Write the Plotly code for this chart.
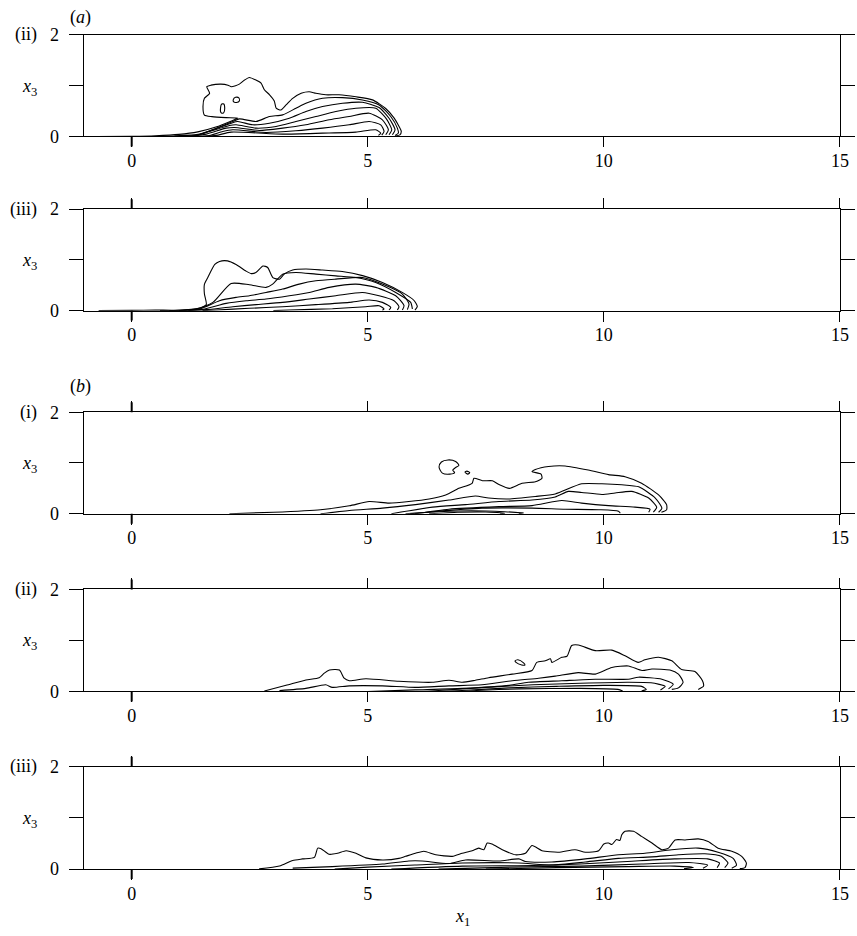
import plotly.graph_objects as go

# ---------------------------------------------------------------------------
# Axis values and labels
# ---------------------------------------------------------------------------
X_RANGE = [-1, 15]
Y_RANGE = [0, 2]
X_TICKS = [0, 5, 10, 15]
Y_TICKS = [0, 1, 2]
Y_TICKTEXT = ["0", "", "2"]
PANEL_TAGS = ["(ii)", "(iii)", "(i)", "(ii)", "(iii)"]
GROUP_TAGS = ["(<i>a</i>)", "(<i>b</i>)"]
X_TITLE = "<i>x</i><sub>1</sub>"
Y_TITLE = "<i>x</i><sub>3</sub>"

# ---------------------------------------------------------------------------
# Contour lines (x1, x3), one list per level, outermost level first
# ---------------------------------------------------------------------------
# (a)(ii)
A2_X = [
    [-0.75, 0.0, 0.5, 1.0, 1.4, 1.8, 2.1, 2.25, 2.0, 1.7, 1.54, 1.51, 1.54, 1.65, 1.59, 1.68, 1.89, 2.04,
     2.11, 2.20, 2.28, 2.39, 2.49, 2.63, 2.74, 2.81, 2.92, 3.02, 3.06, 3.16, 3.27, 3.41, 3.59, 3.76, 3.90,
     4.11, 4.39, 4.75, 5.10, 5.38, 5.56, 5.66, 5.71, 5.68, 5.59],
    [0.3, 0.9, 1.437, 1.789, 2.141, 2.282, 2.634, 2.916, 3.197, 3.479, 3.690, 4.042, 4.465, 4.887, 5.240,
     5.487, 5.627, 5.648, 5.578],
    [0.6, 1.366, 1.719, 2.106, 2.247, 2.564, 2.916, 3.338, 3.690, 4.042, 4.465, 4.887, 5.240, 5.451, 5.578,
     5.522],
    [0.9, 1.296, 1.648, 2.071, 2.211, 2.634, 3.057, 3.479, 3.901, 4.324, 4.747, 5.169, 5.395, 5.508, 5.451],
    [1.2, 1.578, 2.0, 2.176, 2.704, 3.197, 3.690, 4.183, 4.606, 5.029, 5.310, 5.437, 5.381],
    [1.4, 1.648, 1.930, 2.141, 2.845, 3.479, 4.042, 4.606, 5.029, 5.275, 5.345, 5.296],
    [1.5, 1.789, 2.106, 3.197, 4.042, 4.747, 5.169, 5.275, 5.226],
]
A2_Y = [
    [0.0, 0.005, 0.015, 0.04, 0.09, 0.19, 0.30, 0.36, 0.37, 0.39, 0.42, 0.59, 0.75, 0.85, 0.98, 1.01, 1.03,
     1.01, 0.98, 1.0, 1.03, 1.11, 1.16, 1.11, 1.05, 0.92, 0.82, 0.70, 0.556, 0.52, 0.62, 0.75, 0.85, 0.88,
     0.85, 0.82, 0.82, 0.78, 0.72, 0.55, 0.36, 0.20, 0.10, 0.03, 0.01],
    [0.0, 0.01, 0.046, 0.163, 0.294, 0.346, 0.294, 0.392, 0.425, 0.556, 0.654, 0.752, 0.765, 0.719, 0.621,
     0.392, 0.163, 0.065, 0.020],
    [0.0, 0.02, 0.131, 0.261, 0.294, 0.229, 0.261, 0.359, 0.490, 0.588, 0.654, 0.673, 0.569, 0.359, 0.131,
     0.033],
    [0.0, 0.007, 0.098, 0.216, 0.229, 0.163, 0.196, 0.294, 0.392, 0.490, 0.556, 0.556, 0.346, 0.131, 0.033],
    [0.0, 0.046, 0.163, 0.176, 0.118, 0.163, 0.229, 0.327, 0.392, 0.458, 0.327, 0.131, 0.033],
    [0.0, 0.02, 0.098, 0.131, 0.078, 0.111, 0.163, 0.229, 0.294, 0.229, 0.098, 0.026],
    [0.0, 0.02, 0.085, 0.046, 0.065, 0.085, 0.131, 0.065, 0.02],
]
A2_ISLAND_X = [
    [1.88, 1.90, 1.95, 1.97, 1.95, 1.90, 1.88],
    [2.15, 2.20, 2.27, 2.28, 2.22, 2.16, 2.15],
]
A2_ISLAND_Y = [
    [0.50, 0.63, 0.64, 0.55, 0.47, 0.46, 0.50],
    [0.72, 0.77, 0.76, 0.70, 0.67, 0.68, 0.72],
]

# (a)(iii)
A3_X = [
    [-0.7, 0.0, 0.5, 1.08, 1.44, 1.58, 1.54, 1.54, 1.61, 1.76, 1.86, 2.03, 2.21, 2.42, 2.53, 2.63, 2.78,
     2.88, 2.99, 3.13, 3.23, 3.41, 3.69, 4.04, 4.46, 4.89, 5.31, 5.73, 5.98, 6.05, 6.0],
    [0.6, 1.366, 1.719, 2.106, 2.493, 2.845, 2.986, 3.197, 3.479, 3.901, 4.324, 4.747, 5.169, 5.592, 5.909,
     5.945],
    [0.8, 1.437, 1.859, 2.211, 2.493, 2.845, 3.197, 3.549, 3.901, 4.324, 4.887, 5.310, 5.733, 5.874, 5.839],
    [1.0, 1.507, 2.0, 2.423, 2.845, 3.338, 3.761, 4.183, 4.747, 5.169, 5.592, 5.768, 5.733],
    [1.2, 1.578, 2.141, 2.634, 3.197, 3.761, 4.324, 4.887, 5.240, 5.557, 5.662, 5.627],
    [1.5, 1.789, 2.493, 3.197, 3.901, 4.606, 5.029, 5.310, 5.487, 5.451],
    [3.0, 3.338, 4.253, 4.958, 5.240, 5.345, 5.310],
]
A3_Y = [
    [0.0, 0.005, 0.01, 0.012, 0.05, 0.12, 0.33, 0.52, 0.65, 0.91, 0.97, 0.98, 0.91, 0.78, 0.73, 0.75, 0.88,
     0.85, 0.65, 0.62, 0.72, 0.80, 0.82, 0.80, 0.77, 0.69, 0.556, 0.36, 0.20, 0.08, 0.01],
    [0.0, 0.033, 0.163, 0.536, 0.510, 0.458, 0.523, 0.719, 0.752, 0.719, 0.686, 0.654, 0.556, 0.359, 0.163,
     0.033],
    [0.0, 0.033, 0.196, 0.261, 0.294, 0.359, 0.425, 0.523, 0.588, 0.621, 0.654, 0.523, 0.327, 0.131, 0.020],
    [0.0, 0.026, 0.144, 0.196, 0.229, 0.294, 0.359, 0.458, 0.523, 0.458, 0.294, 0.098, 0.013],
    [0.0, 0.020, 0.078, 0.118, 0.163, 0.229, 0.294, 0.359, 0.294, 0.196, 0.078, 0.013],
    [0.0, 0.013, 0.046, 0.078, 0.118, 0.163, 0.209, 0.163, 0.065, 0.013],
    [0.0, 0.013, 0.039, 0.078, 0.098, 0.033, 0.007],
]

# (b)(i)
B1_X = [
    [2.07, 3.0, 4.0, 4.61, 5.03, 5.45, 5.87, 6.30, 6.65, 6.93, 7.21, 7.25, 7.43, 7.64, 7.79, 8.0, 8.27, 8.55,
     8.69, 8.67, 8.48, 8.55, 8.83, 9.18, 9.67, 10.1, 10.45, 10.8, 11.16, 11.33, 11.33, 11.22],
    [4.0, 4.61, 5.31, 6.01, 6.72, 7.28, 7.56, 7.98, 8.55, 8.97, 9.53, 9.96, 10.38, 10.74, 11.09, 11.23, 11.16],
    [5.5, 6.37, 7.07, 7.78, 8.48, 8.97, 9.25, 9.53, 9.96, 10.24, 10.59, 10.95, 11.12, 11.05],
    [6.0, 6.72, 7.78, 8.48, 9.11, 9.53, 10.1, 10.66, 10.98, 10.95],
    [5.9, 6.37, 7.42, 8.48, 9.18, 9.89, 10.31, 10.35],
    [5.8, 6.5, 7.2, 7.9, 8.3, 8.2],
    [6.3, 6.9, 7.5, 7.9, 7.8],
]
B1_Y = [
    [0.0, 0.03, 0.08, 0.157, 0.24, 0.21, 0.24, 0.29, 0.37, 0.50, 0.60, 0.70, 0.65, 0.65, 0.57, 0.50, 0.60,
     0.63, 0.70, 0.78, 0.83, 0.87, 0.93, 0.94, 0.86, 0.77, 0.73, 0.60, 0.37, 0.18, 0.08, 0.03],
    [0.0, 0.065, 0.11, 0.18, 0.27, 0.35, 0.31, 0.29, 0.34, 0.39, 0.59, 0.59, 0.57, 0.53, 0.31, 0.11, 0.03],
    [0.0, 0.13, 0.18, 0.24, 0.27, 0.33, 0.44, 0.42, 0.38, 0.41, 0.44, 0.31, 0.13, 0.03],
    [0.0, 0.09, 0.14, 0.16, 0.26, 0.21, 0.16, 0.13, 0.09, 0.03],
    [0.0, 0.04, 0.11, 0.11, 0.09, 0.08, 0.05, 0.01],
    [0.0, 0.04, 0.06, 0.04, 0.015, 0.0],
    [0.0, 0.03, 0.035, 0.01, 0.0],
]
B1_ISLAND_X = [
    [6.51, 6.56, 6.70, 6.86, 6.93, 6.86, 6.80, 6.84, 6.74, 6.58, 6.51],
    [7.06, 7.10, 7.16, 7.12, 7.06],
]
B1_ISLAND_Y = [
    [0.92, 1.02, 1.06, 1.03, 0.95, 0.91, 0.86, 0.81, 0.78, 0.80, 0.92],
    [0.82, 0.84, 0.81, 0.78, 0.82],
]

# (b)(ii)
B2_X = [
    [2.81, 3.27, 3.69, 3.97, 4.08, 4.19, 4.40, 4.50, 4.61, 4.96, 5.66, 6.37, 6.72, 7.0, 7.28, 7.56, 8.06, 8.48,
     8.58, 8.76, 8.87, 8.90, 9.11, 9.22, 9.32, 9.46, 9.82, 10.17, 10.45, 10.73, 10.87, 11.16, 11.44, 11.65,
     11.93, 12.09, 12.11, 12.0],
    [3.13, 3.69, 4.11, 4.25, 4.61, 5.31, 6.01, 6.72, 7.42, 8.06, 8.62, 8.97, 9.46, 9.82, 10.17, 10.52,
     10.81, 11.02, 11.40, 11.58, 11.68, 11.58, 11.44],
    [5.0, 6.0, 7.0, 8.0, 8.40, 9.11, 9.82, 10.52, 10.73, 11.23, 11.47, 11.37],
    [6.0, 6.5, 7.5, 8.5, 9.5, 10.5, 11.0, 11.3, 11.2],
    [6.5, 7.0, 8.0, 9.0, 10.0, 10.8, 10.9, 10.8],
    [7.0, 7.3, 8.2, 9.5, 10.3, 10.4],
]
B2_Y = [
    [0.01, 0.12, 0.225, 0.27, 0.36, 0.42, 0.42, 0.26, 0.21, 0.25, 0.20, 0.18, 0.22, 0.18, 0.22, 0.27, 0.34,
     0.41, 0.57, 0.60, 0.64, 0.57, 0.67, 0.69, 0.90, 0.91, 0.80, 0.81, 0.70, 0.57, 0.62, 0.67, 0.60, 0.43,
     0.39, 0.21, 0.10, 0.04],
    [0.017, 0.06, 0.13, 0.08, 0.11, 0.11, 0.08, 0.11, 0.13, 0.21, 0.26, 0.30, 0.37, 0.34, 0.47, 0.50, 0.41,
     0.44, 0.42, 0.34, 0.18, 0.07, 0.04],
    [0.0, 0.03, 0.06, 0.12, 0.18, 0.21, 0.24, 0.24, 0.28, 0.24, 0.14, 0.05],
    [0.0, 0.02, 0.08, 0.13, 0.16, 0.18, 0.17, 0.10, 0.03],
    [0.0, 0.02, 0.07, 0.10, 0.12, 0.10, 0.04, 0.01],
    [0.0, 0.02, 0.05, 0.06, 0.04, 0.01],
]
B2_ISLAND_X = [[8.12, 8.18, 8.30, 8.33, 8.26, 8.14, 8.12]]
B2_ISLAND_Y = [[0.60, 0.62, 0.56, 0.52, 0.52, 0.57, 0.60]]

# (b)(iii)
B3_X = [
    [2.70, 3.13, 3.41, 3.62, 3.87, 3.94, 4.01, 4.18, 4.36, 4.54, 4.75, 4.96, 5.31, 5.66, 5.80, 6.01, 6.19,
     6.44, 6.79, 7.0, 7.21, 7.35, 7.46, 7.53, 7.63, 7.85, 8.13, 8.34, 8.48, 8.69, 9.04, 9.39, 9.61, 9.89,
     10.0, 10.1, 10.17, 10.27, 10.34, 10.38, 10.45, 10.63, 10.80, 11.02, 11.23, 11.37, 11.51, 11.72, 12.0,
     12.21, 12.42, 12.71, 12.92, 13.02, 12.99, 12.88],
    [3.41, 4.25, 5.31, 5.87, 6.15, 6.72, 7.07, 7.78, 8.2, 8.34, 8.90, 9.61, 10.31, 10.87, 11.44, 12.0, 12.42,
     12.74, 12.81, 12.71],
    [4.3, 5.0, 6.0, 7.0, 8.2, 8.90, 9.61, 10.31, 11.02, 11.58, 12.14, 12.49, 12.63, 12.56],
    [5.5, 7.0, 8.5, 9.5, 10.5, 11.5, 12.2, 12.45, 12.4],
    [6.5, 8.0, 9.5, 10.8, 11.8, 12.2, 12.1],
    [7.5, 9.0, 10.5, 11.5, 11.9, 11.7],
]
B3_Y = [
    [0.006, 0.06, 0.17, 0.20, 0.23, 0.41, 0.40, 0.29, 0.31, 0.36, 0.31, 0.22, 0.18, 0.21, 0.25, 0.31, 0.35,
     0.28, 0.25, 0.31, 0.36, 0.41, 0.38, 0.51, 0.49, 0.38, 0.28, 0.31, 0.46, 0.36, 0.33, 0.38, 0.33, 0.36,
     0.49, 0.51, 0.48, 0.58, 0.56, 0.67, 0.74, 0.74, 0.64, 0.51, 0.38, 0.41, 0.57, 0.57, 0.59, 0.54, 0.41,
     0.35, 0.25, 0.12, 0.03, 0.01],
    [0.02, 0.05, 0.10, 0.16, 0.16, 0.11, 0.18, 0.16, 0.20, 0.15, 0.14, 0.20, 0.28, 0.31, 0.38, 0.41, 0.33,
     0.21, 0.08, 0.02],
    [0.0, 0.04, 0.08, 0.12, 0.12, 0.08, 0.14, 0.21, 0.24, 0.28, 0.30, 0.25, 0.12, 0.03],
    [0.0, 0.06, 0.07, 0.10, 0.15, 0.20, 0.20, 0.12, 0.03],
    [0.0, 0.04, 0.06, 0.10, 0.13, 0.08, 0.02],
    [0.0, 0.03, 0.05, 0.06, 0.03, 0.01],
]

PANELS = [
    (A2_X, A2_Y, A2_ISLAND_X, A2_ISLAND_Y),
    (A3_X, A3_Y, [], []),
    (B1_X, B1_Y, B1_ISLAND_X, B1_ISLAND_Y),
    (B2_X, B2_Y, B2_ISLAND_X, B2_ISLAND_Y),
    (B3_X, B3_Y, [], []),
]

# ---------------------------------------------------------------------------
# Page geometry, in screen pixels
# ---------------------------------------------------------------------------
W, H = 857, 936
# the page is shown slightly scaled and pushed down; positions below are
# converted from screen pixels to figure pixels through these factors
SCREEN_SX, SCREEN_SY, SCREEN_OY = 0.992, 0.983, 8.0
PLOT_LEFT, PLOT_RIGHT = 84.7, 842.0
PANEL_TOP_BOTTOM = [(33, 135), (208, 310), (412, 514), (590, 692.5), (768, 871)]
FONT = "Liberation Serif"
FONT_SIZE = 18
INK = "black"


def px_x(p):
    return (p / SCREEN_SX) / W


def px_y(p):
    return 1 - ((p - SCREEN_OY) / SCREEN_SY) / H


fig = go.Figure()
layout = dict(
    width=W, height=H,
    margin=dict(l=0, r=0, t=0, b=0),
    paper_bgcolor="white", plot_bgcolor="white",
    showlegend=False,
    font=dict(family=FONT, size=FONT_SIZE, color="black"),
)
shapes = []

for i, (xs, ys, ixs, iys) in enumerate(PANELS):
    n = i + 1
    xname = "x" if n == 1 else f"x{n}"
    yname = "y" if n == 1 else f"y{n}"
    top, bot = PANEL_TOP_BOTTOM[i]

    for cx, cy in zip(xs, ys):
        fig.add_trace(go.Scatter(
            x=cx, y=cy, mode="lines", xaxis=xname, yaxis=yname,
            line=dict(color=INK, width=1.1, shape="spline", smoothing=0.6),
            hoverinfo="skip"))
    for cx, cy in zip(ixs, iys):
        fig.add_trace(go.Scatter(
            x=cx, y=cy, mode="lines", xaxis=xname, yaxis=yname,
            line=dict(color=INK, width=1.1, shape="spline", smoothing=0.8),
            hoverinfo="skip"))

    layout["xaxis" if n == 1 else f"xaxis{n}"] = dict(
        domain=[px_x(PLOT_LEFT), px_x(PLOT_RIGHT)],
        range=X_RANGE, anchor=yname,
        tickmode="array", tickvals=X_TICKS, ticktext=[str(v) for v in X_TICKS],
        ticks="outside", ticklen=10, tickwidth=1, tickcolor="black",
        ticklabelstandoff=-2,
        showline=True, linecolor="black", linewidth=1,
        mirror=True if n == 1 else "ticks",
        showgrid=False, zeroline=False,
        tickfont=dict(family=FONT, size=FONT_SIZE, color="black"),
    )
    layout["yaxis" if n == 1 else f"yaxis{n}"] = dict(
        domain=[px_y(bot), px_y(top)],
        range=Y_RANGE, anchor=xname,
        tickmode="array", tickvals=Y_TICKS, ticktext=Y_TICKTEXT,
        ticks="outside", ticklen=14, tickwidth=1, tickcolor="black",
        ticklabelstandoff=7,
        showline=True, linecolor="black", linewidth=1,
        mirror="ticks",
        showgrid=False, zeroline=False,
        tickfont=dict(family=FONT, size=FONT_SIZE, color="black"),
    )

    # heavier tick at the origin of the horizontal axis
    shapes.append(dict(type="line", xref=xname, yref="paper", x0=0, x1=0,
                       y0=px_y(bot), y1=px_y(bot + 10), line=dict(color="black", width=2)))
    if n > 1:
        shapes.append(dict(type="line", xref=xname, yref="paper", x0=0, x1=0,
                           y0=px_y(top), y1=px_y(top - 10), line=dict(color="black", width=2)))

    # panel tag and vertical-axis label
    fig.add_annotation(text=PANEL_TAGS[i], xref="paper", yref="paper",
                       x=px_x(39), y=px_y(top), xanchor="right", yanchor="middle",
                       showarrow=False, font=dict(family=FONT, size=FONT_SIZE))
    fig.add_annotation(text=Y_TITLE, xref="paper", yref=yname,
                       x=px_x(39), y=0.97, xanchor="right", yanchor="middle",
                       showarrow=False, font=dict(family=FONT, size=FONT_SIZE))

# group tags
for tag, ypx in zip(GROUP_TAGS, [16, 386]):
    fig.add_annotation(text=tag, xref="paper", yref="paper",
                       x=px_x(81), y=px_y(ypx), xanchor="center", yanchor="middle",
                       showarrow=False, font=dict(family=FONT, size=FONT_SIZE))

# horizontal-axis title under the last panel
fig.add_annotation(text=X_TITLE, xref="x5", yref="paper",
                   x=7.0, y=px_y(920), xanchor="center", yanchor="middle",
                   showarrow=False, font=dict(family=FONT, size=FONT_SIZE))

layout["shapes"] = shapes
fig.update_layout(**layout)
fig.write_html("out.html")
